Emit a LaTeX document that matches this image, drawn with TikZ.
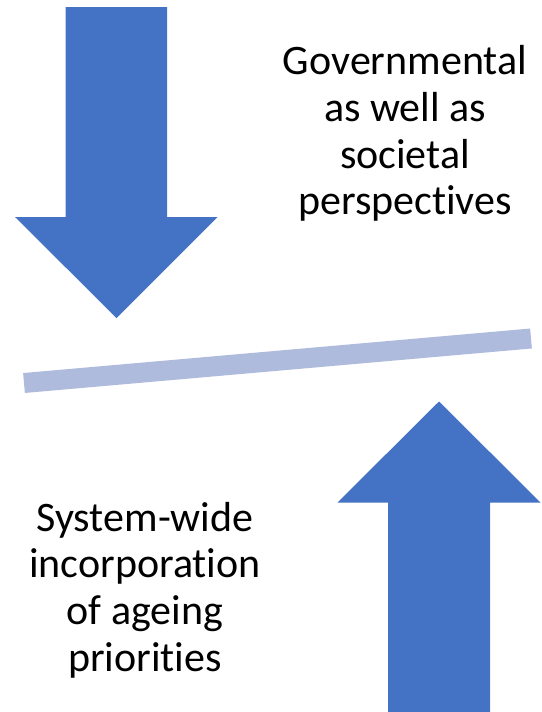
\documentclass[tikz,border=0pt]{standalone}
\usepackage{fontspec}
\setmainfont[Ligatures={NoCommon,NoRequired,NoContextual}]{Carlito}
\definecolor{arrowblue}{RGB}{68,114,196}
\definecolor{barblue}{RGB}{175,187,220}
\tikzset{
  bigarrow/.style={fill=arrowblue, draw=none},
  caption/.style={align=center, inner sep=0pt, font=\fontsize{42}{46.8}\selectfont, text=black},
  beam/.style={draw=barblue, line width=20pt, line cap=butt}
}
\begin{document}
\begin{tikzpicture}[x=1pt,y=-1pt]
\useasboundingbox (0,0) rectangle (541,712);
% down arrow
\path[bigarrow] (65.5,7) -- (167,7) -- (167,217) -- (217.5,217) -- (116.5,318) -- (15,217) -- (65.5,217) -- cycle;
% up arrow
\path[bigarrow] (388,712) -- (490,712) -- (490,502.5) -- (540.5,502.5) -- (439,401.5) -- (337.5,502.5) -- (388,502.5) -- cycle;
% beam
\coordinate (bl) at (24,383);
\coordinate (br) at (531,338.5);
\draw[beam] (bl) -- (br);
% texts
\node[caption] (top) at (405,133.5) {Governmental\\as well as\\societal\\perspectives};
\node[caption] (bottom) at (145,590) {System-wide\\incorporation\\of ageing\\priorities};
\end{tikzpicture}
\end{document}
